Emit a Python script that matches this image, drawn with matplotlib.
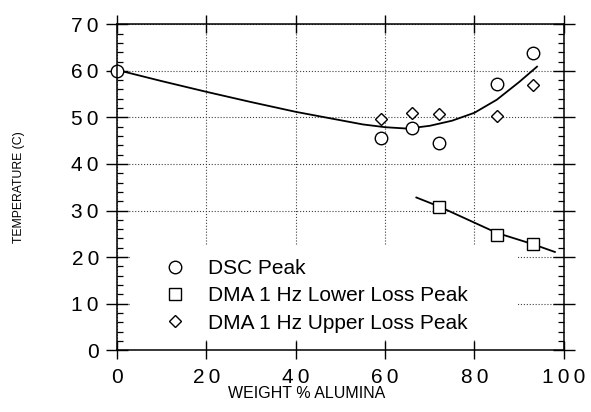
#! usr/bin/env python3

#	import modules
import numpy as np
import matplotlib
matplotlib.use('Agg')
import matplotlib.pyplot as plt
from matplotlib.patches import Rectangle
from matplotlib.ticker import MultipleLocator, FuncFormatter

#	data
dsc_x = [0, 59, 66, 72, 85, 93]
dsc_y = [60.0, 45.5, 47.7, 44.5, 57.2, 63.9]

lower_x = [72, 85, 93]
lower_y = [30.8, 24.8, 22.8]

upper_x = [59, 66, 72, 85, 93]
upper_y = [49.6, 51.0, 50.8, 50.3, 56.9]

#	fitted curves as drawn in the reference
fit_upper_x = [0, 10, 20, 30, 40, 50, 55, 60, 65, 70, 75, 80, 85, 90, 94]
fit_upper_y = [60.2, 57.8, 55.5, 53.3, 51.2, 49.4, 48.5, 47.9, 47.6, 48.2, 49.3, 51.0, 53.8, 57.6, 60.9]

fit_lower_x = [67, 72, 85, 93, 98]
fit_lower_y = [32.8, 30.9, 25.2, 22.8, 21.1]

x_ticks = [0, 20, 40, 60, 80, 100]
y_ticks = [0, 10, 20, 30, 40, 50, 60, 70]

labels = ['DSC Peak', 'DMA 1 Hz Lower Loss Peak', 'DMA 1 Hz Upper Loss Peak']

plt.rcParams['font.family'] = ['Liberation Sans', 'DejaVu Sans']

fig = plt.figure(figsize=(5.91, 4.12), dpi=100)
ax = fig.add_axes([0.198, 0.150, 0.756, 0.791])

#   curves first, markers on top with white faces
ax.plot(fit_upper_x, fit_upper_y, color='black', lw=1.3, zorder=2)
ax.plot(fit_lower_x, fit_lower_y, color='black', lw=1.3, zorder=2)

mk = dict(linestyle='none', mfc='white', mec='black', mew=1.0, zorder=2.2, clip_on=False)
h1, = ax.plot(dsc_x, dsc_y, marker='o', ms=9, label=labels[0], **mk)
h2, = ax.plot(lower_x, lower_y, marker='s', ms=8, label=labels[1], **mk)
h3, = ax.plot(upper_x, upper_y, marker='D', ms=6.5, label=labels[2], **mk)

#   axis limits and ticks
ax.set_xlim(0, 100)
ax.set_ylim(0, 70)
ax.set_xticks(x_ticks)
ax.set_yticks(y_ticks)
ax.yaxis.set_minor_locator(MultipleLocator(2))
spaced = FuncFormatter(lambda v, pos: '\u2009'.join('{:.0f}'.format(v)))
ax.xaxis.set_major_formatter(spaced)
ax.yaxis.set_major_formatter(spaced)

ax.tick_params(axis='both', which='major', direction='inout', labelsize=15,
               top=True, right=True, width=1.0, color='black')
ax.tick_params(axis='y', which='major', length=16, pad=5)
ax.tick_params(axis='x', which='major', length=13, pad=6)
ax.tick_params(axis='y', which='minor', direction='in', length=4, width=0.9,
               left=True, right=True)
ax.tick_params(axis='x', which='minor', bottom=False, top=False)

for s in ax.spines.values():
    s.set_linewidth(1.1)

#   dotted grid, hidden behind the legend area
ax.set_axisbelow(True)
ax.grid(True, which='major', linestyle=':', color='0.25', lw=0.8)
ax.add_patch(Rectangle((0.03, 0.035), 0.867, 0.287, transform=ax.transAxes,
                       facecolor='white', edgecolor='none', zorder=1))

ax.legend(handles=[h1, h2, h3], loc='upper left', bbox_to_anchor=(0.106, 0.280),
          frameon=False, fontsize=15, borderpad=0, borderaxespad=0,
          handlelength=1.0, handletextpad=1.1, labelspacing=0.4)

#   axis labels
ax.set_xlabel('WEIGHT % ALUMINA', fontsize=11.5)
ax.xaxis.set_label_coords(0.425, -0.110)
ax.xaxis.label.set_verticalalignment('top')
ax.set_ylabel('TEMPERATURE (C)', fontsize=8.8)
ax.yaxis.set_label_coords(-0.206, 0.5)

fig.savefig('out.png', dpi=100)
plt.close()
